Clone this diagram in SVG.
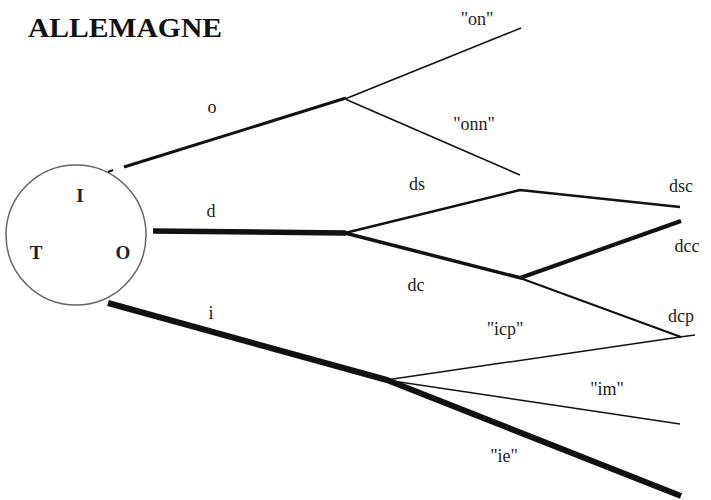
<svg xmlns="http://www.w3.org/2000/svg" width="711" height="500" viewBox="0 0 711 500">
<style>
.lbl{font-family:"Liberation Serif","Times New Roman",serif;font-size:18px;fill:#222;text-anchor:middle}
.in{font-family:"Liberation Serif","Times New Roman",serif;font-size:19px;font-weight:bold;fill:#222;text-anchor:middle}
.title{font-family:"Liberation Serif","Times New Roman",serif;font-size:28px;font-weight:bold;fill:#111}
.e{stroke:#111;fill:none;stroke-linecap:butt;stroke-linejoin:round}
</style>
<rect width="711" height="500" fill="#fff"/>
<text class="title" x="28" y="37" textLength="194" lengthAdjust="spacingAndGlyphs">ALLEMAGNE</text>
<g id="node-TIO">
<circle cx="76" cy="235" r="70" fill="none" stroke="#666" stroke-width="1.5"/>
<text class="in" x="80" y="202">I</text>
<text class="in" x="36" y="259">T</text>
<text class="in" x="123" y="259">O</text>
</g>
<g id="connectors">
<line class="e" x1="108" y1="172" x2="113" y2="170" stroke-width="2"/>
<line class="e" x1="124" y1="167" x2="346" y2="98" stroke-width="3"/>
<line class="e" x1="345" y1="99" x2="521" y2="28" stroke-width="1.6"/>
<line class="e" x1="345" y1="99" x2="520" y2="175" stroke-width="1.6"/>
<line class="e" x1="153" y1="231" x2="346" y2="233" stroke-width="5.5"/>
<polyline class="e" points="345,233 520,190 680,207" stroke-width="2.5"/>
<line class="e" x1="345" y1="233" x2="521" y2="278" stroke-width="3.5"/>
<line class="e" x1="520" y1="278" x2="681" y2="221" stroke-width="4"/>
<line class="e" x1="520" y1="278" x2="681" y2="337" stroke-width="2"/>
<polyline class="e" points="108,303 387,380 681,496" stroke-width="6"/>
<polyline class="e" points="695,335 680,337 386,380 680,424" stroke-width="1.5"/>
</g>
<g id="labels">
<text class="lbl" x="212" y="113">o</text>
<text class="lbl" x="211" y="217">d</text>
<text class="lbl" x="211" y="319">i</text>
<text class="lbl" x="477" y="25">"on"</text>
<text class="lbl" x="474" y="130">"onn"</text>
<text class="lbl" x="417" y="190">ds</text>
<text class="lbl" x="416" y="291">dc</text>
<text class="lbl" x="681" y="192">dsc</text>
<text class="lbl" x="687" y="252">dcc</text>
<text class="lbl" x="681" y="322">dcp</text>
<text class="lbl" x="505" y="335">"icp"</text>
<text class="lbl" x="607" y="395">"im"</text>
<text class="lbl" x="504" y="462">"ie"</text>
</g>
</svg>
